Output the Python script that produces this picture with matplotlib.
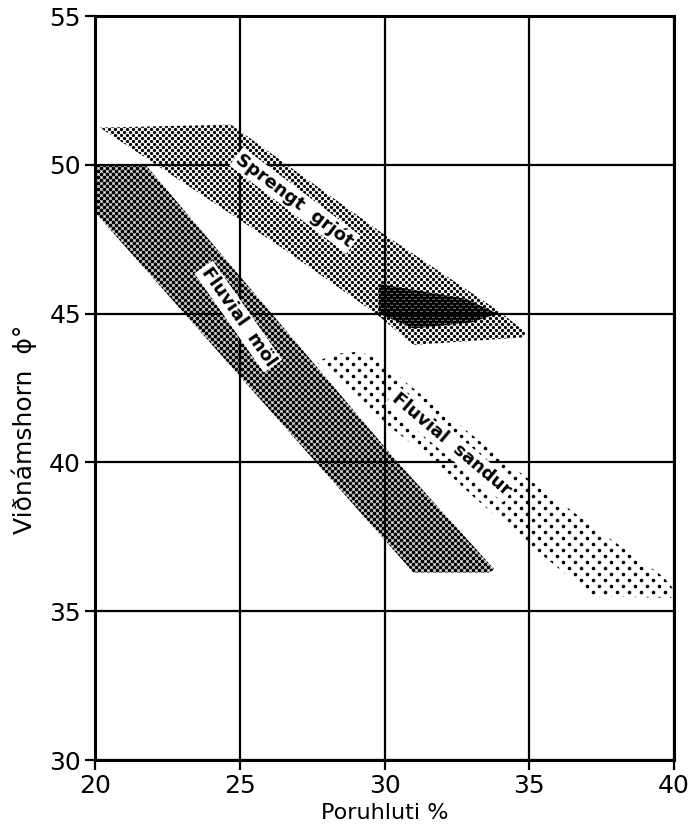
import matplotlib
matplotlib.use('Agg')
import numpy as np
import matplotlib.pyplot as plt
from matplotlib.patches import Polygon

# Band outlines (porosity %, friction angle deg)
sprengt_x = [20.17, 24.7, 29.85, 34.0, 34.9, 34.8, 31.0, 29.7, 26.4]
sprengt_y = [51.25, 51.35, 47.75, 45.05, 44.35, 44.2, 43.95, 45.0, 47.25]

# darker overlap patch inside the crushed rock band
sprengt_core_x = [29.8, 32.8, 33.9, 33.0, 31.0, 29.8]
sprengt_core_y = [46.0, 45.5, 45.0, 44.7, 44.5, 45.0]

mol_x = [20.0, 21.75, 26.1, 30.46, 33.8, 33.6, 31.0, 20.0]
mol_y = [50.0, 50.0, 45.0, 40.0, 36.4, 36.3, 36.3, 48.4]

sandur_x = [27.66, 28.3, 29.15, 29.84, 30.77, 33.53, 35.03, 37.21, 39.63, 39.98,
            39.9, 37.2, 36.64, 34.68, 33.07, 31.9, 29.44]
sandur_y = [43.38, 43.65, 43.72, 43.44, 42.66, 40.53, 39.4, 37.84, 36.16, 35.75,
            35.45, 35.5, 35.94, 37.5, 38.85, 39.9, 41.76]

label_text = ['Sprengt  grjót', 'Fluvial  möl', 'Fluvial  sandur']
label_x = [26.9, 24.95, 32.3]
label_y = [48.8, 44.9, 40.6]
label_rot = [-37, -55, -40]

x_ticks = [20, 25, 30, 35, 40]
y_ticks = [30, 35, 40, 45, 50, 55]

fig = plt.figure(figsize=(6.94, 8.30), dpi=100)
ax = fig.add_axes([95 / 694, 70 / 830, 579 / 694, 744 / 830])
ax.set_xlim(20, 40)
ax.set_ylim(30, 55)

px_x = 579 / 20.0   # pixels per unit on each axis
px_y = 744 / 25.0


def band(xs, ys, step, row, dot):
    # halftone-like dot screen clipped to the band outline
    poly = Polygon(list(zip(xs, ys)), closed=True, facecolor='none', edgecolor='none')
    ax.add_patch(poly)
    dx, dy = step / px_x, row / px_y
    gx, gy = [], []
    for k, yy in enumerate(np.arange(min(ys) - dy, max(ys) + dy, dy)):
        xx = np.arange(min(xs) - dx, max(xs) + dx, dx) + (k % 2) * dx / 2
        gx.extend(xx)
        gy.extend([yy] * len(xx))
    sc = ax.scatter(gx, gy, s=(dot * 0.72) ** 2, color='black', linewidths=0, zorder=1)
    sc.set_clip_path(poly)


band(sprengt_x, sprengt_y, 6, 3, 3.3)
band(sprengt_core_x, sprengt_core_y, 6, 3, 4.2)
band(mol_x, mol_y, 6, 3, 3.9)
band(sandur_x, sandur_y, 12, 6, 3.6)

for t, x, y, r in zip(label_text, label_x, label_y, label_rot):
    ax.text(x, y, t, rotation=r, rotation_mode='anchor', ha='center', va='center',
            fontsize=13, fontweight='bold', zorder=4,
            bbox=dict(facecolor='white', edgecolor='none', pad=1.5))

ax.set_xticks(x_ticks)
ax.set_yticks(y_ticks)
ax.grid(True, color='black', linewidth=1.6)
ax.set_axisbelow(False)
for s in ax.spines.values():
    s.set_linewidth(2.2)
ax.tick_params(labelsize=18, length=7, width=1.6, direction='out', pad=3)

ax.set_xlabel('Poruhluti %', fontsize=16, labelpad=4)
ax.set_ylabel('Viðnámshorn  ϕ°', fontsize=18)
ax.yaxis.set_label_coords(-0.1, 0.445)

fig.savefig('out.png', dpi=100)
